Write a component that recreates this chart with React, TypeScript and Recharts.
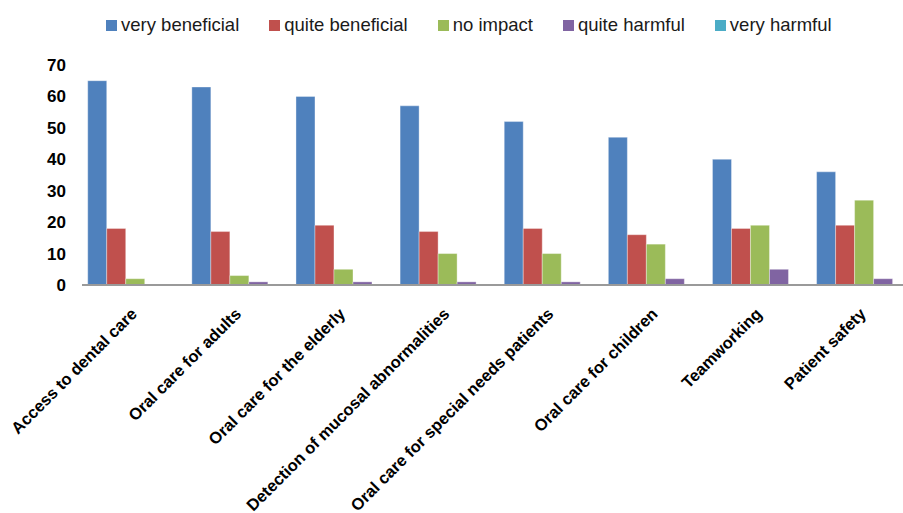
import React from 'react';
import { BarChart, Bar, XAxis, YAxis, Legend } from 'recharts';

const categories = [
  'Access to dental care',
  'Oral care for adults',
  'Oral care for the elderly',
  'Detection of mucosal abnormalities',
  'Oral care for special needs patients',
  'Oral care for children',
  'Teamworking',
  'Patient safety',
];
const veryBeneficial = [65, 63, 60, 57, 52, 47, 40, 36];
const quiteBeneficial = [18, 17, 19, 17, 18, 16, 18, 19];
const noImpact = [2, 3, 5, 10, 10, 13, 19, 27];
const quiteHarmful = [0, 1, 1, 1, 1, 2, 5, 2];
const veryHarmful = [0, 0, 0, 0, 0, 0, 0, 0];
const yTicks = [0, 10, 20, 30, 40, 50, 60, 70];
const boundaryTicks = [0, 1, 2, 3, 4, 5, 6, 7, 8];

const seriesNames = ['very beneficial', 'quite beneficial', 'no impact', 'quite harmful', 'very harmful'];
const seriesKeys = ['vb', 'qb', 'ni', 'qh', 'vh'];
const seriesColors = ['#4F81BD', '#C0504D', '#9BBB59', '#8064A2', '#4BACC6'];

const data = categories.map((name, i) => ({
  name,
  idx: i,
  vb: veryBeneficial[i],
  qb: quiteBeneficial[i],
  ni: noImpact[i],
  qh: quiteHarmful[i],
  vh: veryHarmful[i],
}));

const CatTick = (props: any) => {
  const { x, y, payload } = props;
  return (
    <g transform={`translate(${x + 4},${y + 29}) rotate(-45)`}>
      <text
        x={0}
        y={0}
        textAnchor="end"
        fill="#000"
        style={{ fontFamily: '"Liberation Sans", Arial, sans-serif', fontWeight: 700, fontSize: 16.5 }}
      >
        {payload.value}
      </text>
    </g>
  );
};

const LegendContent = () => (
  <div style={{ height: 65, boxSizing: 'border-box', paddingTop: 16, paddingLeft: 106, display: 'flex', alignItems: 'flex-start' }}>
    {seriesNames.map((n, i) => (
      <div key={n} style={{ display: 'flex', alignItems: 'center', height: 18, marginRight: 30 }}>
        <span style={{ display: 'inline-block', width: 11, height: 11, background: seriesColors[i], marginRight: 4 }} />
        <span style={{ fontFamily: '"Liberation Sans", Arial, sans-serif', fontSize: 18.5, color: '#1a1a1a', lineHeight: '18px', whiteSpace: 'nowrap' }}>{n}</span>
      </div>
    ))}
  </div>
);

export default function App() {
  return (
    <div style={{ position: 'absolute', left: 0, top: 0, width: 903, height: 513, overflow: 'hidden', background: '#fff' }}>
      <BarChart
        width={915}
        height={513}
        data={data}
        margin={{ top: 0, right: 0, bottom: 0, left: 0 }}
        barCategoryGap="5.5%"
        barGap={0}
      >
        <Legend verticalAlign="top" content={<LegendContent />} />
        <XAxis
          xAxisId="b_cat"
          dataKey="name"
          type="category"
          height={227}
          interval={0}
          axisLine={false}
          tickLine={false}
          tickSize={0}
          tickMargin={0}
          tick={<CatTick />}
        />
        <XAxis
          xAxisId="a_grid"
          type="number"
          dataKey="idx"
          domain={[0, 8]}
          allowDataOverflow
          ticks={boundaryTicks}
          tick={false}
          height={1}
          axisLine={{ stroke: '#9a9a9a', strokeWidth: 2 }}
          tickLine={{ stroke: '#9a9a9a', strokeWidth: 2 }}
          tickSize={8}
        />
        <YAxis
          width={82}
          domain={[0, 70]}
          ticks={yTicks}
          axisLine={false}
          tickLine={false}
          tickSize={6}
          tickMargin={10}
          tick={{ fill: '#000', fontSize: 17, fontWeight: 700, fontFamily: '"Liberation Sans", Arial, sans-serif' }}
        />
        {seriesKeys.map((k, i) => (
          <Bar
            key={k}
            xAxisId="b_cat"
            dataKey={k}
            name={seriesNames[i]}
            fill={seriesColors[i]}
            stroke="rgba(255,255,255,0.35)"
            strokeWidth={1}
            isAnimationActive={false}
          />
        ))}
      </BarChart>
    </div>
  );
}
